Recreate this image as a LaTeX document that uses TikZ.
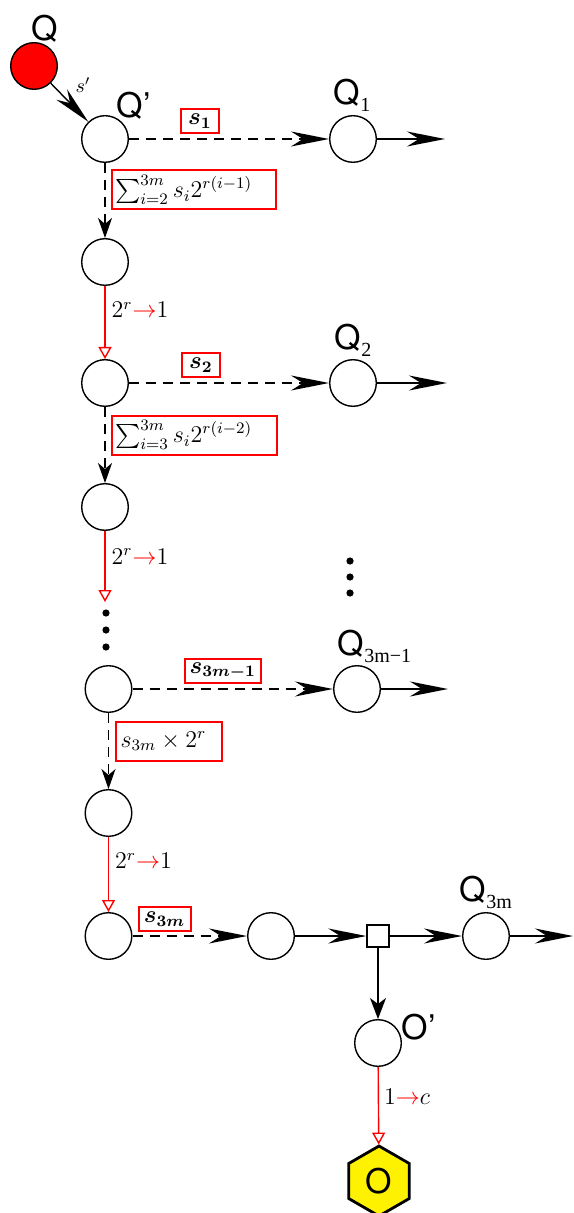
\documentclass[tikz,border=0pt]{standalone}
\usepackage{fontspec}
\usepackage{amsmath}
\usetikzlibrary{arrows.meta,shapes.geometric}
\newfontfamily\qf{TeX Gyre Heros}
\newfontfamily\qsubfont{Liberation Serif}
\newcommand{\mysub}[1]{\raisebox{-3.5pt}{\qsubfont\fontsize{10}{12}\selectfont #1}}
\begin{document}
\begin{tikzpicture}[x=0.5pt,y=-0.5pt]
\tikzset{
 st/.style={circle,draw,line width=0.7pt,minimum size=23.3pt,inner sep=0pt},
 sq/.style={rectangle,draw,line width=0.7pt,minimum size=11pt,inner sep=0pt},
 hex/.style={regular polygon,regular polygon sides=6,shape border rotate=30,draw,line width=1.4pt,fill=yellow,minimum size=35pt,inner sep=0pt,font=\qf\fontsize{17}{20}\selectfont},
 dot/.style={circle,fill,inner sep=0pt,minimum size=3.6pt},
 bigtip/.style={-{Stealth[length=19pt,width=7.5pt,inset=6pt]}},
 smtip/.style={-{Stealth[length=10pt,width=7pt,inset=3pt]}},
 rtip/.style={-{Triangle[open,length=6pt,width=6.5pt]}},
 ln/.style={line width=0.7pt},
 dsh/.style={line width=0.7pt,dash pattern=on 5pt off 3.5pt},
 rln/.style={red,line width=0.7pt},
 box/.style={solid,draw=red,line width=1pt,inner xsep=0pt,inner ysep=0pt,minimum height=12pt,font=\large,text=black},
 lbox/.style={box,align=left,inner xsep=1.5pt,minimum height=19.5pt},
 rlab/.style={font=\large,text=black,inner sep=1pt,anchor=west,xshift=2pt},
 qlab/.style={inner sep=0pt,anchor=base west,font=\qf\fontsize{17}{20}\selectfont},
}
\useasboundingbox (0,0) rectangle (573,1213);
% nodes
\node[st,fill=red] (Q) at (34,66) {};
\node[st] (Qp) at (105,139) {};
\node[st] (Q1) at (353,139) {};
\node[st] (A1) at (105,262) {};
\node[st] (B2) at (105,383) {};
\node[st] (Q2) at (353,383) {};
\node[st] (A2) at (105,507) {};
\node[st] (B3) at (108.5,689) {};
\node[st] (Q3) at (357,689) {};
\node[st] (A3) at (108.5,813) {};
\node[st] (B4) at (108.5,936) {};
\node[st] (C) at (271,936) {};
\node[sq] (S) at (378,936) {};
\node[st] (Q4) at (486,936) {};
\node[st] (Op) at (378,1043) {};
\node[hex] (O) at (379,1181) {O};
% free ends
\coordinate (e1) at (445,139);
\coordinate (e2) at (447,383);
\coordinate (e3) at (448,689);
\coordinate (e4) at (573,936);
\coordinate (e5) at (105,602);
% dots
\node[dot] (d1) at (106,613) {};
\node[dot] (d2) at (106,630) {};
\node[dot] (d3) at (106,647) {};
\node[dot] (d4) at (350,561) {};
\node[dot] (d5) at (350,577) {};
\node[dot] (d6) at (350,593) {};
% labels
\node[qlab] (lQ) at (31.5,41) {Q};
\node[qlab] (lQp) at (116.5,118) {Q’};
\node[qlab] (lQ1) at (333.5,105) {Q\mysub{1}};
\node[qlab] (lQ2) at (334.5,350) {Q\mysub{2}};
\node[qlab] (lQ3) at (337.5,655) {Q\mysub{3m−1}};
\node[qlab] (lQ4) at (459.5,901) {Q\mysub{3m}};
\node[qlab] (lOp) at (401.5,1039) {O’};
\node[font=\normalsize,inner sep=0pt] (sp) at (83,85) {$s'$};
% connectors
\draw[ln,bigtip] (Q) -- (Qp);
\draw[dsh,bigtip] (Qp) -- node[box,minimum width=19pt,pos=0.355,above=2.5pt]{$\boldsymbol{s_1}$} (Q1);
\draw[ln,bigtip] (Q1) -- (e1);
\draw[dsh,smtip] (Qp) -- node[lbox,text width=79pt,pos=0.36,right=3pt]{$\sum_{i=2}^{3m} s_i 2^{r(i-1)}$} (A1);
\draw[rln,rtip] (A1) -- node[rlab,pos=0.33]{$2^r{\color{red}\to}1$} (B2);
\draw[dsh,bigtip] (B2) -- node[box,minimum width=19pt,pos=0.36,above=2.5pt]{$\boldsymbol{s_2}$} (Q2);
\draw[ln,bigtip] (Q2) -- (e2);
\draw[dsh,smtip] (B2) -- node[lbox,text width=79.5pt,pos=0.37,right=3pt]{$\sum_{i=3}^{3m} s_i 2^{r(i-2)}$} (A2);
\draw[rln,rtip] (A2) -- node[rlab,pos=0.36]{$2^r{\color{red}\to}1$} (e5);
\draw[dsh,bigtip] (B3) -- node[box,minimum width=38pt,pos=0.45,above=2.5pt]{$\boldsymbol{s_{3m-1}}$} (Q3);
\draw[ln,bigtip] (Q3) -- (e3);
\draw[dsh,smtip] (B3) -- node[lbox,inner xsep=2.5pt,text width=48pt,pos=0.37,right=3pt]{$s_{3m}\times 2^r$} (A3);
\draw[rln,rtip] (A3) -- node[rlab,pos=0.32]{$2^r{\color{red}\to}1$} (B4);
\draw[dsh,bigtip] (B4) -- node[box,minimum width=26pt,pos=0.28,above=2pt]{$\boldsymbol{s_{3m}}$} (C);
\draw[ln,bigtip] (C) -- (S);
\draw[ln,bigtip] (S) -- (Q4);
\draw[ln,bigtip] (Q4) -- (e4);
\draw[ln,-{Stealth[length=10.5pt,width=8pt,inset=3pt]}] (S) -- (Op);
\draw[rln,rtip] (Op) -- node[rlab,pos=0.39,xshift=-0.5pt]{$1{\color{red}\to}c$} (O);
\end{tikzpicture}
\end{document}
